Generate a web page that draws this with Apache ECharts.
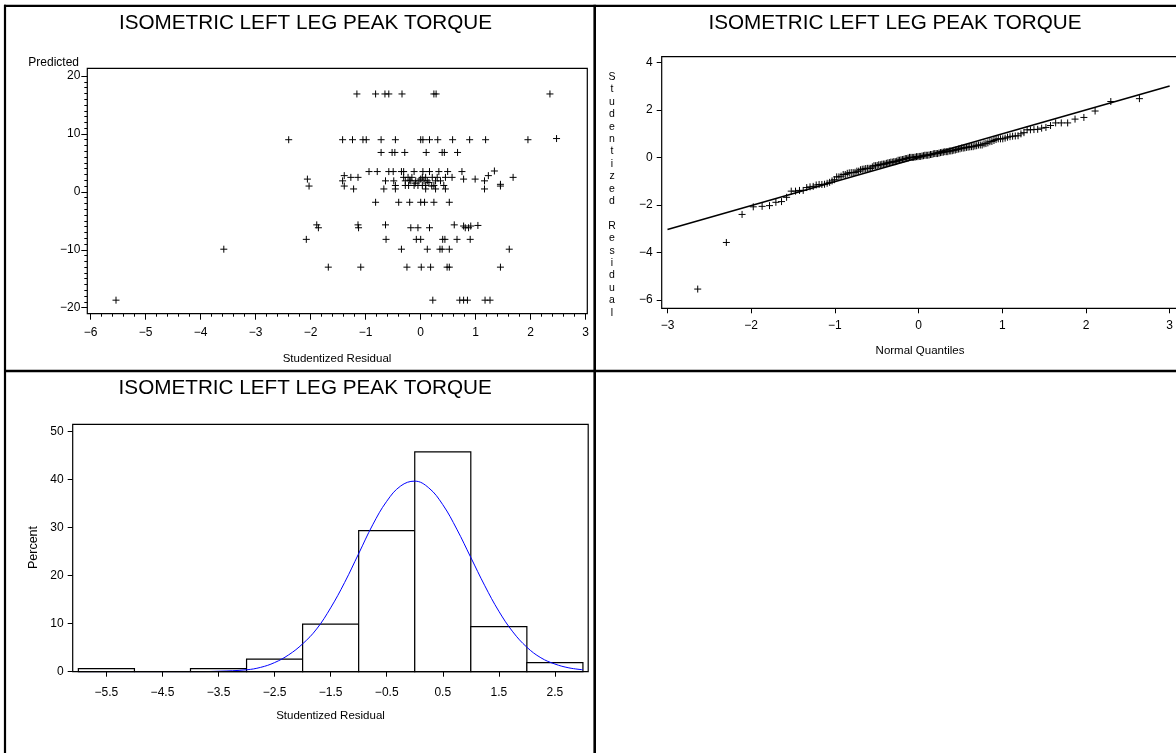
<!DOCTYPE html>
<html><head><meta charset="utf-8">
<script src="https://cdn.jsdelivr.net/npm/echarts@6/dist/echarts.min.js"></script>
<style>html,body{margin:0;padding:0;background:#fff}#c{width:1176px;height:753px}</style>
</head><body><div id="c"></div>
<script>
const chartTitle = 'ISOMETRIC LEFT LEG PEAK TORQUE';

// Scatter: studentized residual vs predicted value
const scatterResidual = [
  -1.16,-0.82,-0.65,-0.58,-0.34,0.24,0.28,2.35,
  -2.40,-1.42,-1.24,-1.05,-0.99,-0.72,-0.46,0.00,0.04,0.16,0.31,0.58,0.89,1.18,1.95,2.47,
  -0.72,-0.52,-0.47,-0.29,0.10,0.39,0.43,0.67,
  -0.94,-0.79,-0.58,-0.50,-0.35,-0.31,-0.12,0.04,0.16,0.33,0.49,0.75,1.34,
  -2.06,-1.39,-1.27,-1.14,-0.31,-0.23,-0.16,0.03,0.09,0.21,0.30,0.45,0.57,0.78,0.99,1.23,1.68,
  -1.42,-0.64,-0.49,-0.28,-0.18,-0.09,-0.03,0.06,0.12,0.27,0.36,1.16,
  -2.03,-1.39,-0.46,-0.28,-0.22,-0.12,-0.05,0.03,0.09,0.24,0.42,1.45,1.45,
  -1.22,-0.67,-0.46,0.09,0.27,0.45,1.16,
  -0.10,0.00,0.15,-0.20,0.20,
  -0.82,-0.40,-0.20,0.00,0.07,0.24,0.52,
  -1.89,-1.86,-1.14,-1.13,-0.64,-0.18,-0.05,0.16,0.61,0.78,0.81,0.87,0.91,1.04,
  -2.08,-0.63,-0.08,0.00,0.40,0.44,0.66,0.90,
  -3.58,-0.35,0.12,0.35,0.39,0.52,1.61,
  -1.68,-1.09,-0.25,0.01,0.18,0.48,0.52,1.45,
  -5.54,0.22,0.71,0.78,0.85,1.17,1.26
];
const scatterPredicted = [
  16.9,16.9,16.9,16.9,16.9,16.9,16.9,16.9,
  9.0,9.0,9.0,9.0,9.0,9.0,9.0,9.0,9.0,9.0,9.0,9.0,9.0,9.0,9.0,9.2,
  6.8,6.8,6.8,6.8,6.8,6.8,6.8,6.8,
  3.5,3.5,3.5,3.5,3.5,3.5,3.5,3.5,3.5,3.5,3.5,3.5,3.6,
  2.2,2.8,2.5,2.5,2.5,2.5,2.5,2.5,2.5,2.5,2.5,2.5,2.5,2.2,2.2,2.8,2.5,
  1.9,1.9,1.9,1.9,1.9,1.9,1.9,1.9,1.9,1.9,1.9,1.9,
  1.0,1.0,1.1,1.1,1.1,1.1,1.1,1.1,1.1,1.1,1.1,1.3,1.0,
  0.5,0.5,0.5,0.5,0.5,0.5,0.5,
  1.5,2.2,1.6,2.0,1.0,
  -1.8,-1.8,-1.8,-1.8,-1.8,-1.8,-1.8,
  -5.7,-6.2,-5.7,-6.2,-5.7,-6.2,-6.2,-6.2,-5.7,-5.9,-6.2,-6.2,-5.9,-5.8,
  -8.2,-8.2,-8.2,-8.2,-8.2,-8.2,-8.2,-8.2,
  -9.9,-9.9,-9.9,-9.9,-9.9,-9.9,-9.9,
  -13.0,-13.0,-13.0,-13.0,-13.0,-13.0,-13.0,-13.0,
  -18.7,-18.7,-18.7,-18.7,-18.7,-18.7,-18.7
];

// Q-Q reference line end points
const qqLineX = [-3, 3];
const qqLineY = [-3.03, 3.0];

// Histogram
const histMid = [-5.5,-4.5,-3.5,-2.5,-1.5,-0.5,0.5,1.5,2.5];
const histPercent = [0.66,0,0.66,2.6,9.9,29.4,45.8,9.4,1.9];
const histBinWidth = 1;

// Fitted normal curve
const curveX = [-6,-5,-4,-3.5,-3,-2.75,-2.5,-2.25,-2,-1.75,-1.5,-1.25,-1,-0.75,-0.5,-0.25,0,0.25,0.5,0.75,1,1.25,1.5,1.75,2,2.25,2.5,2.75,3];
const curveY = [0,0,0,0.1,0.4,0.9,1.9,3.5,5.8,8.9,13.3,18.6,24.6,30.6,35.5,38.7,39.7,38.3,34.8,29.7,23.8,17.9,12.6,8.3,5.1,2.9,1.6,0.8,0.4];

// ---------- derived ----------
function invNorm(p){
  const a=[-3.969683028665376e+01,2.209460984245205e+02,-2.759285104469687e+02,1.383577518672690e+02,-3.066479806614716e+01,2.506628277459239e+00];
  const b=[-5.447609879822406e+01,1.615858368580409e+02,-1.556989798598866e+02,6.680131188771972e+01,-1.328068155288572e+01];
  const c=[-7.784894002430293e-03,-3.223964580411365e-01,-2.400758277161838e+00,-2.549732539343734e+00,4.374664141464968e+00,2.938163982698783e+00];
  const d=[7.784695709041462e-03,3.224671290700398e-01,2.445134137142996e+00,3.754408661907416e+00];
  const pl=0.02425, ph=1-pl; let q,r;
  if(p<pl){q=Math.sqrt(-2*Math.log(p));return (((((c[0]*q+c[1])*q+c[2])*q+c[3])*q+c[4])*q+c[5])/((((d[0]*q+d[1])*q+d[2])*q+d[3])*q+1);}
  if(p<=ph){q=p-0.5;r=q*q;return (((((a[0]*r+a[1])*r+a[2])*r+a[3])*r+a[4])*r+a[5])*q/(((((b[0]*r+b[1])*r+b[2])*r+b[3])*r+b[4])*r+1);}
  q=Math.sqrt(-2*Math.log(1-p));return -(((((c[0]*q+c[1])*q+c[2])*q+c[3])*q+c[4])*q+c[5])/((((d[0]*q+d[1])*q+d[2])*q+d[3])*q+1);
}
const scatterData = scatterResidual.map((r,i)=>[r, scatterPredicted[i]]);
const sorted = scatterResidual.slice().sort((a,b)=>a-b);
const n = sorted.length;
const qqData = sorted.map((v,i)=>[invNorm((i+1-0.375)/(n+0.25)), v]);
const qqLine = qqLineX.map((x,i)=>[x, qqLineY[i]]);
const histData = histMid.map((m,i)=>[m, histPercent[i]]);
const curveData = curveX.map((x,i)=>[x, curveY[i]]);

const FONT = 'Liberation Sans';
const plusSym = 'path://M5,0L5,10M0,5L10,5';
const fmt = v => String(v).replace('-', '\u2212');
const lbl = (margin) => ({fontFamily: FONT, fontSize: 12, color: '#000', margin, formatter: fmt});
const lineStyle = {color: '#000', width: 1};
const noLine = {show:false, onZero:false};

const chart = echarts.init(document.getElementById('c'), null, {renderer: 'canvas'});

function frame(x, y, w, h){
  return {type:'rect', shape:{x, y, width:w, height:h}, style:{fill:'none', stroke:'#000', lineWidth:1.2}, silent:true, z:10};
}
function txt(x, y, text, size, extra){
  return Object.assign({type:'text', x, y, style:Object.assign({text, font: size+'px "'+FONT+'"', fill:'#000', align:'center', verticalAlign:'middle'}, extra||{}), silent:true, z:10});
}
function hline(x1,x2,y,w){return {type:'line', shape:{x1, y1:y, x2, y2:y}, style:{stroke:'#000', lineWidth:w}, silent:true, z:20};}
function vline(x,y1,y2,w){return {type:'line', shape:{x1:x, y1, x2:x, y2}, style:{stroke:'#000', lineWidth:w}, silent:true, z:20};}

const qqVertical = 'Studentized Residual'.split('').join('\n');

chart.setOption({
  animation: false,
  backgroundColor: '#fff',
  grid: [
    {left: 90.7, top: 76, width: 495, height: 231.7},
    {left: 667.5, top: 62.3, width: 506.5, height: 237.7},
    {left: 106.4, top: 431.7, width: 448.5, height: 240},
    {left: 78.37, top: 431.7, width: 504.56, height: 240}
  ],
  xAxis: [
    {gridIndex:0, type:'value', position:'bottom', min:-6, max:3, interval:1, offset:6,
      axisLine:noLine, axisTick:{show:true, length:6, lineStyle},
      minorTick:{show:true, splitNumber:5, length:3, lineStyle},
      axisLabel: lbl(13), splitLine:{show:false}},
    {gridIndex:1, type:'value', position:'bottom', min:-3, max:3, interval:1, offset:8.3,
      axisLine:noLine, axisTick:{show:true, length:5, lineStyle},
      axisLabel: lbl(11), splitLine:{show:false}},
    {gridIndex:2, type:'value', position:'bottom', min:-5.5, max:2.5, interval:1, offset:0,
      axisLine:noLine, axisTick:{show:true, length:5, lineStyle},
      axisLabel: lbl(15), splitLine:{show:false}},
    {gridIndex:3, type:'value', min:-6, max:3, show:false, axisLine:noLine}
  ],
  yAxis: [
    {gridIndex:0, type:'value', position:'left', min:-20, max:20, interval:10, offset:3.4,
      axisLine:noLine, axisTick:{show:true, length:6, lineStyle},
      minorTick:{show:true, splitNumber:10, length:3, lineStyle},
      axisLabel: lbl(7), splitLine:{show:false}},
    {gridIndex:1, type:'value', position:'left', min:-6, max:4, interval:2, offset:5.8,
      axisLine:noLine, axisTick:{show:true, length:5, lineStyle},
      axisLabel: lbl(9), splitLine:{show:false}},
    {gridIndex:2, type:'value', position:'left', min:0, max:50, interval:10, offset:33.7,
      axisLine:noLine, axisTick:{show:true, length:5, lineStyle},
      axisLabel: lbl(9), splitLine:{show:false}},
    {gridIndex:3, type:'value', min:0, max:50, show:false, axisLine:noLine}
  ],
  series: [
    {type:'scatter', xAxisIndex:0, yAxisIndex:0, data: scatterData, symbol: plusSym, symbolSize: 7,
      itemStyle:{color:'rgba(0,0,0,0)', borderColor:'#000', borderWidth:1, opacity:1}, silent:true},
    {type:'scatter', xAxisIndex:1, yAxisIndex:1, data: qqData, symbol: plusSym, symbolSize: 7,
      itemStyle:{color:'rgba(0,0,0,0)', borderColor:'#000', borderWidth:1, opacity:1}, silent:true},
    {type:'line', xAxisIndex:1, yAxisIndex:1, data: qqLine, symbol:'none', lineStyle:{color:'#000', width:1.6}, silent:true, z:3},
    {type:'custom', xAxisIndex:3, yAxisIndex:3, data: histData, silent:true,
      renderItem: function(params, api){
        const m = api.value(0), h = api.value(1);
        const p0 = api.coord([m - histBinWidth/2, 0]);
        const p1 = api.coord([m + histBinWidth/2, h]);
        return {type:'rect', shape:{x:p0[0], y:p1[1], width:p1[0]-p0[0], height:p0[1]-p1[1]},
          style:{fill:'#fff', stroke:'#000', lineWidth:1.2}};
      }},
    {type:'line', xAxisIndex:3, yAxisIndex:3, data: curveData, smooth:0.4, symbol:'none',
      lineStyle:{color:'#0000ff', width:1}, silent:true, z:5}
  ],
  graphic: [
    frame(87.3, 68.3, 500, 245.4),
    frame(661.7, 56.7, 520, 251.6),
    frame(72.7, 424.3, 515.5, 247.4),
    txt(305.5, 22.8, chartTitle, 20.7),
    txt(895, 22.8, chartTitle, 20.7),
    txt(305.2, 388, chartTitle, 20.7),
    txt(53.7, 62.5, 'Predicted', 12),
    txt(337, 358.5, 'Studentized Residual', 11.5),
    txt(920, 351, 'Normal Quantiles', 11.5),
    txt(330.5, 716, 'Studentized Residual', 11.5),
    Object.assign(txt(33.5, 547.5, 'Percent', 12.5), {rotation: Math.PI/2}),
    txt(612, 195, qqVertical, 10.5, {lineHeight: 12.4}),
    hline(4, 1176, 5.8, 2.2),
    vline(5, 4.7, 753, 2.2),
    vline(594.7, 4.7, 753, 2.6),
    hline(4, 1176, 371, 2.6)
  ]
});
</script>
</body></html>
